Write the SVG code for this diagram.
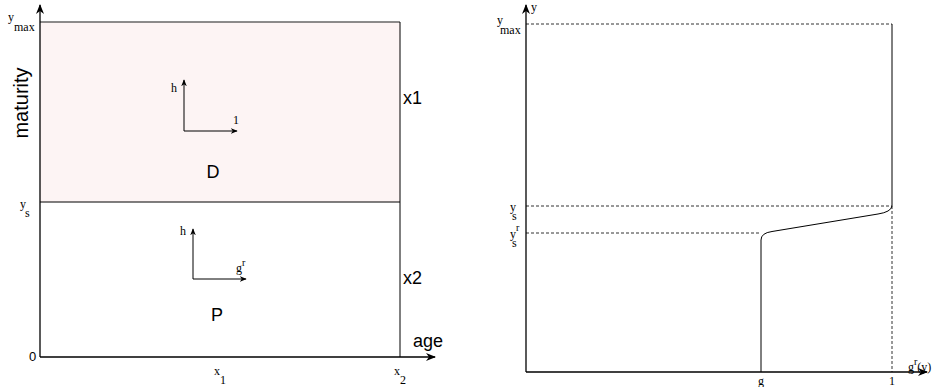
<svg xmlns="http://www.w3.org/2000/svg" width="936" height="387" viewBox="0 0 936 387">
<style>
.ax{stroke:#000;stroke-width:1.3;fill:none}
.ln{stroke:#000;stroke-width:1;fill:none}
.dash{stroke:#333;stroke-width:1;stroke-dasharray:3 2;fill:none}
.sans{font-family:"Liberation Sans",Arial,sans-serif;fill:#000}
.serif{font-family:"Liberation Serif","Times New Roman",serif;fill:#000}
.big{font-size:18px}
.sm{font-size:12px}
</style>
<defs>
<marker id="ah" viewBox="0 0 10 10" refX="9" refY="5" markerWidth="10" markerHeight="10" markerUnits="userSpaceOnUse" orient="auto">
<path d="M0,1 L10,5 L0,9 L3,5 Z" fill="#000"/>
</marker>
<marker id="ahs" viewBox="0 0 10 10" refX="9" refY="5" markerWidth="7" markerHeight="7" markerUnits="userSpaceOnUse" orient="auto">
<path d="M0,1 L10,5 L0,9 L3,5 Z" fill="#000"/>
</marker>
</defs>
<g id="left-panel">
<g id="region-D">
<rect x="40" y="22" width="360" height="180" fill="#fdf4f4"/>
<line x1="40" y1="22" x2="400" y2="22" stroke="#666" stroke-width="1.3"/>
<text x="213" y="178" class="sans big" text-anchor="middle">D</text>
</g>
<g id="region-P">
<line x1="40" y1="202" x2="400" y2="202" class="ln"/>
<text x="217" y="321" class="sans big" text-anchor="middle">P</text>
</g>
<line x1="400" y1="22" x2="400" y2="357" class="ln"/>
<g id="left-axes">
<line x1="40" y1="357" x2="40" y2="5" class="ax" marker-end="url(#ah)"/>
<line x1="40" y1="357" x2="435" y2="357" class="ax" marker-end="url(#ah)"/>
</g>
<g id="arrows-D">
<line x1="184" y1="131" x2="184" y2="80" class="ln" marker-end="url(#ahs)"/>
<line x1="184" y1="131" x2="237" y2="131" class="ln" marker-end="url(#ahs)"/>
<text x="171" y="92" class="serif sm">h</text>
<text x="233" y="124" class="serif sm">1</text>
</g>
<g id="arrows-P">
<line x1="193" y1="279" x2="193" y2="229" class="ln" marker-end="url(#ahs)"/>
<line x1="193" y1="279" x2="246" y2="279" class="ln" marker-end="url(#ahs)"/>
<text x="180" y="235" class="serif sm">h</text>
<text x="236" y="272" class="serif sm">g<tspan dy="-6" font-size="10">r</tspan></text>
</g>
<text transform="translate(28,103) rotate(-90)" class="sans" font-size="20" text-anchor="middle">maturity</text>
<text x="403" y="104" class="sans big">x1</text>
<text x="403" y="284" class="sans big">x2</text>
<text x="413" y="347" class="sans big">age</text>
<text x="29" y="361" class="sans" font-size="13">0</text>
<text x="8" y="21" class="serif sm">y<tspan x="14" y="31">max</tspan></text>
<text x="20" y="208" class="serif sm">y<tspan x="25" y="217">s</tspan></text>
<text x="214" y="375" class="serif sm">x<tspan x="220" y="384">1</tspan></text>
<text x="394" y="375" class="serif sm">x<tspan x="400" y="384">2</tspan></text>
</g>
<g id="right-panel">
<g id="guides">
<line x1="526" y1="24" x2="892" y2="24" class="dash"/>
<line x1="526" y1="206" x2="892" y2="206" class="dash"/>
<line x1="526" y1="233" x2="761" y2="233" class="dash"/>
<line x1="892" y1="206" x2="892" y2="372" class="dash"/>
</g>
<line x1="892" y1="24" x2="892" y2="206" class="ln" stroke-width="1.2"/>
<path id="curve" d="M761,372 V240 Q761,233 772,231.5 L878,214 Q891,212 892,206" class="ln" stroke-width="1.3"/>
<g id="right-axes">
<line x1="526" y1="372" x2="526" y2="5" class="ax" marker-end="url(#ah)"/>
<line x1="526" y1="372" x2="927" y2="372" class="ax" marker-end="url(#ah)"/>
</g>
<text x="531" y="11" class="serif sm">y</text>
<text x="497" y="24" class="serif sm">y<tspan x="500" y="34">max</tspan></text>
<text x="510" y="211" class="serif sm">y<tspan x="512" y="220">s</tspan></text>
<text x="510" y="238" class="serif sm">y<tspan x="516" y="231" font-size="10">r</tspan><tspan x="512" y="247">s</tspan></text>
<text x="761" y="385" class="serif sm" text-anchor="middle">g</text>
<text x="892" y="385" class="serif sm" text-anchor="middle">1</text>
<text x="908" y="371" class="serif sm">g<tspan dy="-6" font-size="10">r</tspan><tspan dy="6">(y)</tspan></text>
</g>
</svg>
